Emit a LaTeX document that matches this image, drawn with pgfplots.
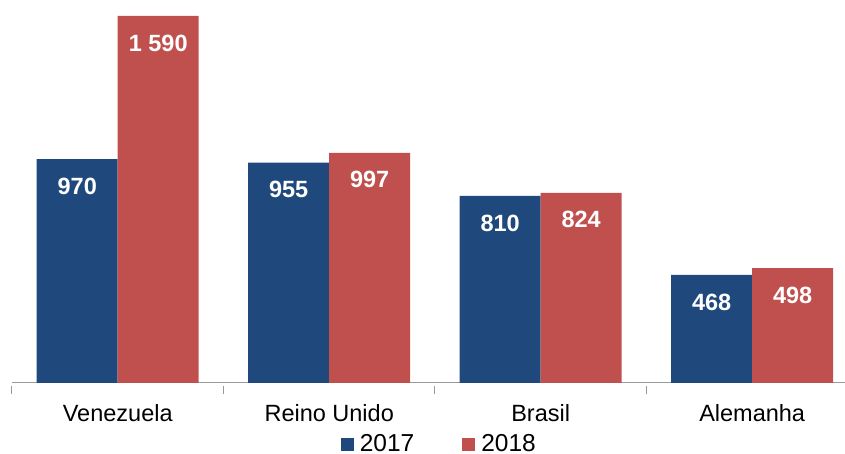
\documentclass[border=0pt]{standalone}
\usepackage{pgfplots}
\pgfplotsset{compat=1.18}
\usepackage{fontspec}
\setmainfont{Liberation Sans}
\definecolor{cblue}{HTML}{1F497D}
\definecolor{cred}{HTML}{C0504D}
\begin{document}
\begin{tikzpicture}
\begin{axis}[
  name=ax,
  scale only axis,
  width=833pt, height=383pt,
  xmin=-0.5, xmax=3.439,
  ymin=0, ymax=1659,
  axis x line=bottom,
  axis y line=none,
  axis line style={gray!80, line width=1pt, -},
  xtick={0,1,2,3},
  xticklabels={Venezuela,Reino Unido,Brasil,Alemanha},
  major tick length=0pt,
  minor xtick={-0.5,0.5,1.5,2.5},
  minor tick length=7pt,
  every minor tick/.style={gray!80, line width=1pt, yshift=-3.5pt},
  xticklabel style={font=\fontsize{23.5}{27}\selectfont, yshift=-18pt},
  ybar, bar width=0.383,
  /pgf/number format/assume math mode=true,
  /pgf/number format/1000 sep={\ },
  nodes near coords,
  every node near coord/.append style={font=\fontsize{23.5}{26}\selectfont\bfseries, text=white, anchor=center, yshift=-27pt},
  legend columns=2,
  legend style={draw=none, at={(0.513,0)}, anchor=center, yshift=-61pt, font=\fontsize{24.5}{27}\selectfont,
    /tikz/every even column/.append style={column sep=46pt}, inner sep=0pt},
  legend image code/.code={\fill[#1] (0pt,-6.5pt) rectangle (13pt,6.5pt); \path (17pt,0pt);},
]
\addplot[fill=cblue, draw=none, bar shift=-0.1915] coordinates {(0,970) (1,955) (2,810) (3,468)};
\addplot[fill=cred, draw=none, bar shift=0.1915] coordinates {(0,1590) (1,997) (2,824) (3,498)};
\legend{2017,2018}
\end{axis}
\pgfresetboundingbox
\path[use as bounding box] (ax.north west) ++(-12pt,0pt) rectangle ++(845pt,-454pt);
\end{tikzpicture}
\end{document}
